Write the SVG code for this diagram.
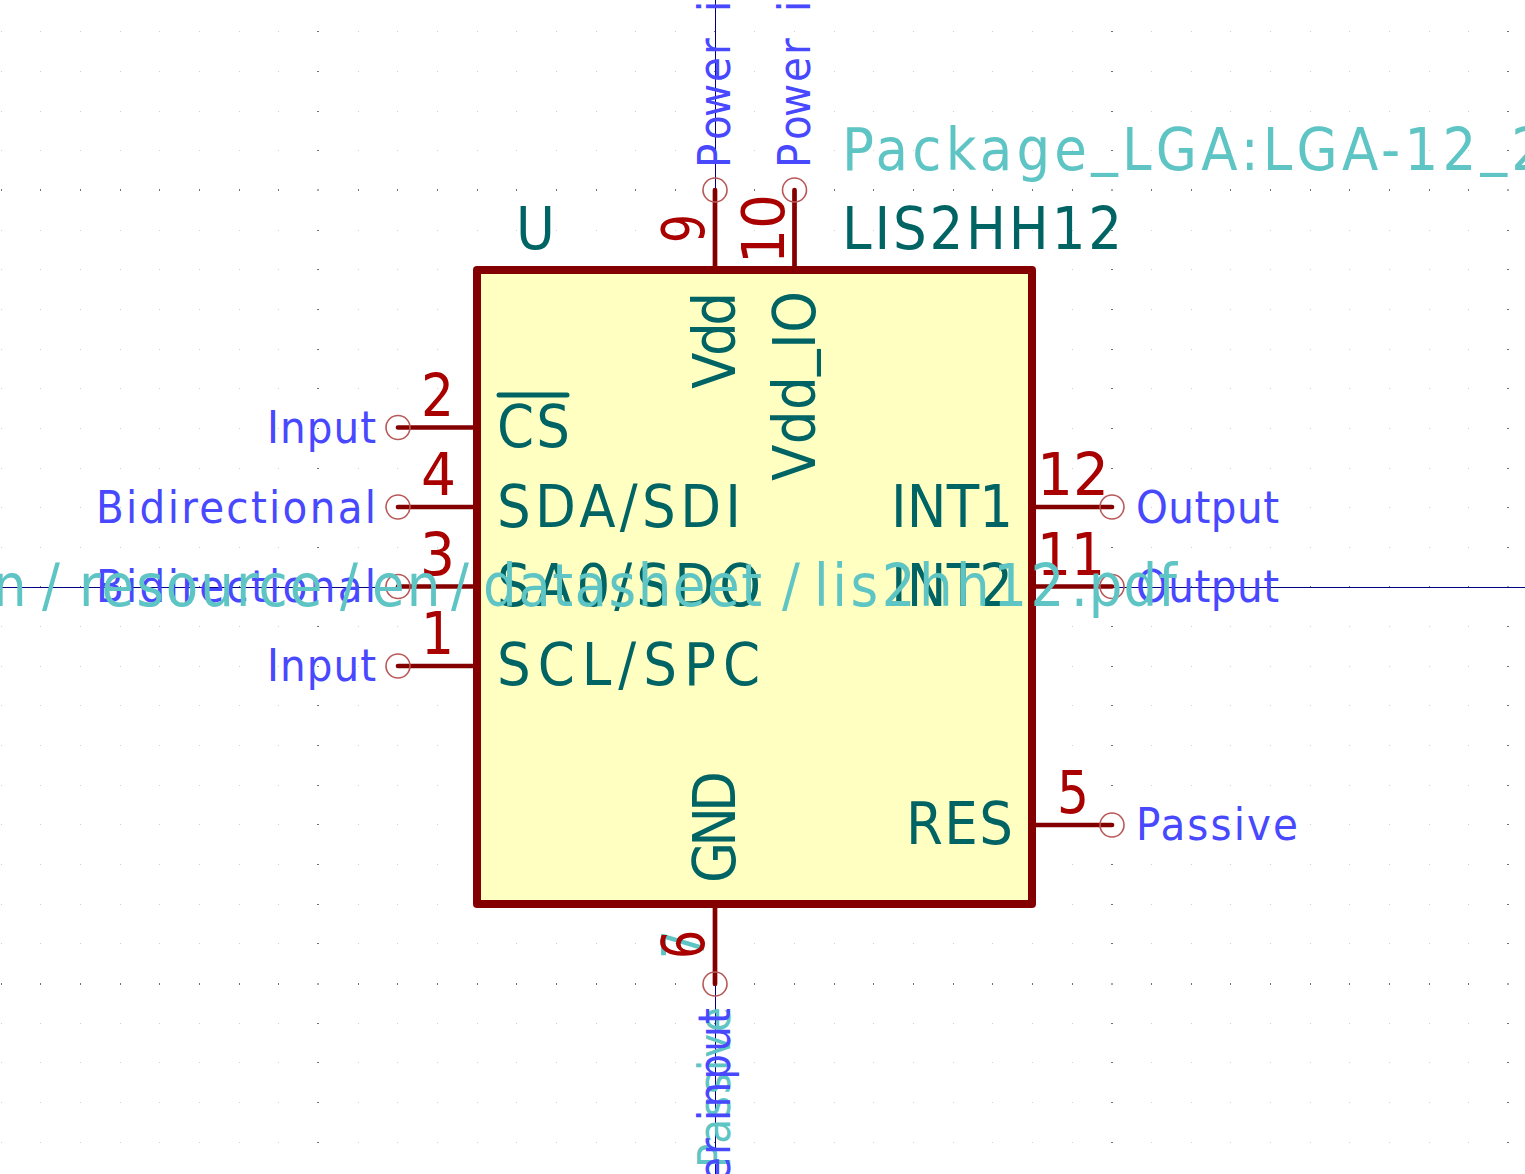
<svg xmlns="http://www.w3.org/2000/svg" width="1525" height="1174" viewBox="0 0 1525 1174">
<defs>
<style>
text{font-family:"DejaVu Sans","Liberation Sans",sans-serif;font-stretch:condensed}
.nm{font-size:59px;fill:#006464}
.num{font-size:59px;fill:#a90000}
.typ{font-size:45px;fill:#4848ff}
.hid{fill:#5ec4c4}
.pin{stroke:#840000;stroke-width:4.7;stroke-linecap:round;fill:none}
.end{stroke:#b85858;stroke-width:1.6;fill:none}
.cross{stroke:#000084;stroke-width:1;fill:none}
</style>
<path id="row" fill="#cfcfcf" d="M1 0h1v1h-1zM40 0h1v1h-1zM80 0h1v1h-1zM120 0h1v1h-1zM159 0h1v1h-1zM199 0h1v1h-1zM239 0h1v1h-1zM278 0h1v1h-1zM358 0h1v1h-1zM397 0h1v1h-1zM437 0h1v1h-1zM477 0h1v1h-1zM516 0h1v1h-1zM556 0h1v1h-1zM596 0h1v1h-1zM635 0h1v1h-1zM675 0h1v1h-1zM754 0h1v1h-1zM794 0h1v1h-1zM834 0h1v1h-1zM873 0h1v1h-1zM913 0h1v1h-1zM953 0h1v1h-1zM992 0h1v1h-1zM1032 0h1v1h-1zM1072 0h1v1h-1zM1151 0h1v1h-1zM1191 0h1v1h-1zM1230 0h1v1h-1zM1270 0h1v1h-1zM1310 0h1v1h-1zM1349 0h1v1h-1zM1389 0h1v1h-1zM1429 0h1v1h-1zM1468 0h1v1h-1z"/>
<path id="rowc" fill="#707070" d="M317 0h2v1h-2zM714 0h2v1h-2zM1111 0h2v1h-2zM1507 0h2v1h-2z"/>
<path id="rowm" fill="#707070" d="M1 0h1v2h-1zM40 0h1v2h-1zM80 0h1v2h-1zM120 0h1v2h-1zM159 0h1v2h-1zM199 0h1v2h-1zM239 0h1v2h-1zM278 0h1v2h-1zM358 0h1v2h-1zM397 0h1v2h-1zM437 0h1v2h-1zM477 0h1v2h-1zM516 0h1v2h-1zM556 0h1v2h-1zM596 0h1v2h-1zM635 0h1v2h-1zM675 0h1v2h-1zM754 0h1v2h-1zM794 0h1v2h-1zM834 0h1v2h-1zM873 0h1v2h-1zM913 0h1v2h-1zM953 0h1v2h-1zM992 0h1v2h-1zM1032 0h1v2h-1zM1072 0h1v2h-1zM1151 0h1v2h-1zM1191 0h1v2h-1zM1230 0h1v2h-1zM1270 0h1v2h-1zM1310 0h1v2h-1zM1349 0h1v2h-1zM1389 0h1v2h-1zM1429 0h1v2h-1zM1468 0h1v2h-1z"/>
<path id="rowx" fill="#a8a8a8" d="M317 0h2v2h-2zM714 0h2v2h-2zM1111 0h2v2h-2zM1507 0h2v2h-2z"/>
<g id="r"><use href="#row"/><use href="#rowc"/></g>
<g id="R"><use href="#rowm"/><use href="#rowx"/></g>
</defs>
<rect width="1525" height="1174" fill="#ffffff"/>
<g id="grid">
<use href="#r" y="31"/><use href="#r" y="71"/><use href="#r" y="111"/><use href="#r" y="150"/><use href="#R" y="189"/><use href="#r" y="230"/><use href="#r" y="269"/><use href="#r" y="309"/><use href="#r" y="349"/><use href="#r" y="388"/><use href="#r" y="428"/><use href="#r" y="468"/><use href="#r" y="507"/><use href="#r" y="547"/><use href="#R" y="586"/><use href="#r" y="626"/><use href="#r" y="666"/><use href="#r" y="705"/><use href="#r" y="745"/><use href="#r" y="785"/><use href="#r" y="824"/><use href="#r" y="864"/><use href="#r" y="904"/><use href="#r" y="943"/><use href="#R" y="983"/><use href="#r" y="1023"/><use href="#r" y="1062"/><use href="#r" y="1102"/><use href="#r" y="1142"/>
</g>
<g id="crosshair"><path class="cross" d="M0 587.5H1525M715.5 0V1174"/></g>
<g id="body"><rect x="477" y="270" width="555" height="634" fill="#ffffc2" stroke="#840000" stroke-width="8" stroke-linejoin="round"/></g>
<g id="connectors">
<path class="pin" d="M715 270V190M794.5 270V190M715 904V984M477 427.5H398M477 507H398M477 586.5H398M477 666H398M1032 507H1112M1032 586.5H1112M1032 825H1112"/>
<g class="end"><circle cx="715" cy="190" r="12"/><circle cx="794.5" cy="190" r="12"/><circle cx="715" cy="984" r="12"/><circle cx="398" cy="427.5" r="12"/><circle cx="398" cy="507" r="12"/><circle cx="398" cy="586.5" r="12"/><circle cx="398" cy="666" r="12"/><circle cx="1112" cy="507" r="12"/><circle cx="1112" cy="586.5" r="12"/><circle cx="1112" cy="825" r="12"/></g>
</g>
<g id="hidden-pin-7">
<text class="num hid" transform="translate(704 959) rotate(-90)" textLength="29" lengthAdjust="spacingAndGlyphs">7</text>
<text class="typ hid" transform="translate(730 1168) rotate(-90)" textLength="161">Passive</text>
</g>
<g id="pin-9"><text class="num" transform="translate(704 243) rotate(-90)" textLength="29" lengthAdjust="spacingAndGlyphs">9</text><text class="typ" transform="translate(730 168) rotate(-90)" x="0 28 51 86 113 140 156">Power i</text><text class="nm" transform="translate(735 389) rotate(-90)" textLength="97">Vdd</text></g>
<g id="pin-10"><text class="num" transform="translate(784 264) rotate(-90)" textLength="70" lengthAdjust="spacingAndGlyphs">10</text><text class="typ" transform="translate(810 168) rotate(-90)" x="0 28 51 86 113 140 156">Power i</text><text class="nm" transform="translate(815 481) rotate(-90)" textLength="190">Vdd<tspan dy="-8">_</tspan><tspan dy="8">IO</tspan></text></g>
<g id="pin-2"><text class="num" x="421" y="416" textLength="33" lengthAdjust="spacingAndGlyphs">2</text><text class="typ" x="267" y="443" textLength="109">Input</text><text class="nm" x="497" y="447" textLength="73">CS</text><path d="M499 395H567" stroke="#006464" stroke-width="5" stroke-linecap="round"/></g>
<g id="pin-4"><text class="num" x="421" y="495" textLength="35" lengthAdjust="spacingAndGlyphs">4</text><text class="typ" x="96" y="523" textLength="280">Bidirectional</text><text class="nm" x="497" y="527" textLength="244">SDA/SDI</text></g>
<g id="pin-3"><text class="num" x="420" y="575" textLength="35" lengthAdjust="spacingAndGlyphs">3</text><text class="typ" x="96" y="602" textLength="280">Bidirectional</text><text class="nm" x="497" y="606" textLength="264">SA0/SDO</text></g>
<g id="pin-1"><text class="num" x="421" y="654" textLength="33" lengthAdjust="spacingAndGlyphs">1</text><text class="typ" x="267" y="681" textLength="109">Input</text><text class="nm" x="497" y="685" textLength="263">SCL/SPC</text></g>
<g id="pin-12"><text class="num" x="1037" y="495" textLength="72" lengthAdjust="spacingAndGlyphs">12</text><text class="typ" x="1136" y="523" textLength="143">Output</text><text class="nm" x="891" y="527" textLength="122">INT1</text></g>
<g id="pin-11"><text class="num" x="1037" y="575" textLength="68" lengthAdjust="spacingAndGlyphs">11</text><text class="typ" x="1136" y="602" textLength="143">Output</text><text class="nm" x="891" y="606" textLength="122">INT2</text></g>
<g id="pin-5"><text class="num" x="1057" y="813" textLength="32" lengthAdjust="spacingAndGlyphs">5</text><text class="typ" x="1136" y="840" textLength="162">Passive</text><text class="nm" x="906" y="844" textLength="107">RES</text></g>
<g id="pin-6"><text class="num" transform="translate(704 959) rotate(-90)" textLength="29" lengthAdjust="spacingAndGlyphs">6</text><text class="typ" transform="translate(730 1182) rotate(-90)" textLength="174">er input</text><text class="nm" transform="translate(735 883) rotate(-90)" textLength="112">GND</text></g>
<g id="fields">
<text class="nm" x="516" y="249" textLength="35">U</text>
<text class="nm" x="842" y="249" textLength="280">LIS2HH12</text>
<text class="nm hid" x="842" y="170" textLength="703">Package<tspan dy="-7">_</tspan><tspan dy="7">LGA:LGA-12</tspan><tspan dy="-7">_</tspan><tspan dy="7">2</tspan></text>
<text class="nm hid" y="606"><tspan x="-7">n</tspan><tspan x="42">/</tspan><tspan x="79" letter-spacing="2">resource</tspan><tspan x="340">/</tspan><tspan x="372" letter-spacing="2">en</tspan><tspan x="451">/</tspan><tspan x="483" letter-spacing="1.5">datasheet</tspan><tspan x="782">/</tspan><tspan x="814" letter-spacing="3.5">lis2hh12</tspan><tspan x="1071" letter-spacing="1">.pdf</tspan></text>
</g>
</svg>
